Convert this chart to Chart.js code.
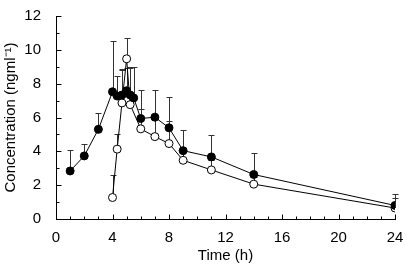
<!DOCTYPE html>
<html lang="en">
<head>
  <meta charset="UTF-8">
  <title>Concentration vs time</title>
  <script src="https://cdn.jsdelivr.net/npm/chart.js"></script>
  <style>
    html, body { margin: 0; padding: 0; background: #fff; }
    .wrap { width: 406px; height: 265px; }
  </style>
</head>
<body>
<div class="wrap"><canvas id="chart" width="406" height="265"></canvas></div>
<script>
  // filled circles
  const timesA = [1, 2, 3, 4, 4.33, 4.67, 5, 5.25, 5.5, 6, 7, 8, 9, 11, 14, 24];
  const concA  = [2.84, 3.73, 5.3, 7.52, 7.27, 7.33, 7.58, 7.33, 7.16, 5.94, 6.02, 5.39, 4.04, 3.67, 2.63, 0.8];
  const upperA = [4.07, 4.42, 6.29, 10.55, 8.46, 8.84, 8.9, 8.99, 9.0, 7.6, 7.62, 7.24, 5.26, 4.99, 3.89, 1.47];
  // open circles
  const timesB = [4, 4.33, 4.67, 5, 5.25, 6, 7, 8, 9, 11, 14, 24];
  const concB  = [1.27, 4.13, 6.86, 9.47, 6.76, 5.33, 4.87, 4.46, 3.47, 2.9, 2.06, 0.65];
  const upperB = [2.59, 5.03, 8.8, 10.7, 8.9, 6.5, 5.9, 5.81, 4.0, 3.5, 2.5, 1.24];

  const toPts = (xs, ys) => xs.map((x, i) => ({ x: x, y: ys[i] }));
  const font = { family: 'Liberation Sans, Arial, sans-serif', size: 15 };

  // upper error bars + inward ticks
  const extras = {
    id: 'extras',
    beforeDatasetsDraw(chart) {
      const ctx = chart.ctx, xs = chart.scales.x, ys = chart.scales.y;
      ctx.save();
      ctx.strokeStyle = '#333';
      ctx.lineWidth = 1;
      [[timesA, concA, upperA], [timesB, concB, upperB]].forEach(([t, c, u]) => {
        t.forEach((x, i) => {
          const px = Math.round(xs.getPixelForValue(x)) + 0.5;
          const y0 = ys.getPixelForValue(c[i]);
          const y1 = Math.round(ys.getPixelForValue(u[i])) + 0.5;
          ctx.beginPath();
          ctx.moveTo(px, y0);
          ctx.lineTo(px, y1);
          ctx.moveTo(px - 3, y1);
          ctx.lineTo(px + 3, y1);
          ctx.stroke();
        });
      });
      // ticks
      ctx.strokeStyle = '#000';
      const bottom = Math.round(ys.getPixelForValue(0)) + 0.5;
      const left = Math.round(xs.getPixelForValue(0)) + 0.5;
      ctx.beginPath();
      for (let v = 0; v <= 24; v++) {
        const px = Math.round(xs.getPixelForValue(v)) + 0.5;
        const len = v % 4 === 0 ? 5 : 3;
        ctx.moveTo(px, bottom);
        ctx.lineTo(px, bottom - len);
      }
      for (let v = 0; v <= 12; v++) {
        const py = Math.round(ys.getPixelForValue(v)) + 0.5;
        const len = v % 2 === 0 ? 5 : 3;
        ctx.moveTo(left, py);
        ctx.lineTo(left + len, py);
      }
      ctx.stroke();
      ctx.restore();
    }
  };

  new Chart(document.getElementById('chart'), {
    type: 'scatter',
    data: {
      datasets: [
        {
          data: toPts(timesA, concA),
          showLine: true,
          borderColor: '#000',
          borderWidth: 1,
          backgroundColor: '#000',
          pointRadius: 4,
          pointBorderWidth: 1,
          pointBorderColor: '#000',
          pointBackgroundColor: '#000'
        },
        {
          data: toPts(timesB, concB),
          showLine: true,
          borderColor: '#000',
          borderWidth: 1,
          pointRadius: 4,
          pointBorderWidth: 1,
          pointBorderColor: '#000',
          pointBackgroundColor: '#fff'
        }
      ]
    },
    options: {
      responsive: false,
      animation: false,
      layout: { padding: { top: 9, right: 11, left: 2, bottom: 0 } },
      plugins: { legend: { display: false }, tooltip: { enabled: false } },
      scales: {
        x: {
          type: 'linear',
          min: 0, max: 24,
          grid: { display: false },
          border: { display: true, color: '#000', width: 1 },
          ticks: { stepSize: 4, color: '#000', font: font, padding: 2, maxRotation: 0 },
          title: { display: true, text: 'Time (h)', color: '#000', font: font, padding: { top: 0, bottom: 0 } },
          afterFit: s => { s.height = 46; }
        },
        y: {
          min: 0, max: 12,
          grid: { display: false },
          border: { display: true, color: '#000', width: 1 },
          ticks: { stepSize: 2, color: '#000', font: font, padding: 7 },
          title: { display: true, text: 'Concentration (ngml\u207B\u00B9)', color: '#000', font: font, padding: { top: 0, bottom: 4 } },
          afterFit: s => { s.width = 54; }
        }
      }
    },
    plugins: [extras]
  });
</script>
</body>
</html>
